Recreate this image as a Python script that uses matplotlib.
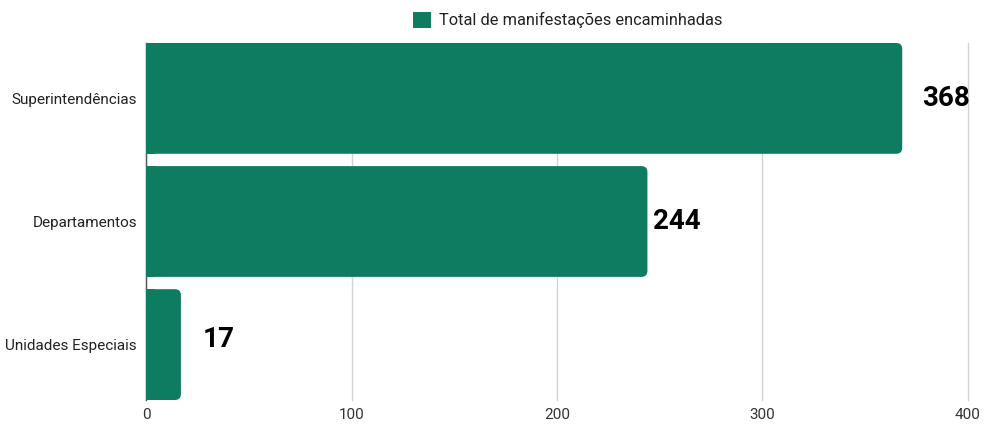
import matplotlib
matplotlib.use("Agg")
import matplotlib.pyplot as plt
from matplotlib.patches import FancyBboxPatch, Rectangle, Patch

categories = ["Superintendências", "Departamentos", "Unidades Especiais"]
values = [368, 244, 17]
series_name = "Total de manifestações encaminhadas"
xticks = [0, 100, 200, 300, 400]
label_offsets = [(20, 0), (6, 0), (22, 5)]  # pixels, label placement

color = "#0e7c61"
plt.rcParams['font.family'] = ['Roboto', 'DejaVu Sans']

fig = plt.figure(figsize=(9.84, 4.24), dpi=100)
ax = fig.add_axes([146/984, 1-400/424, (968-146)/984, (400-43)/424])

bar_h = 0.9
ypos = list(range(len(categories)))
bars = ax.barh(ypos, values, height=bar_h, color=color, label=series_name, zorder=3)
ax.set_ylim(len(categories)-1+bar_h/2, -bar_h/2)
ax.set_xlim(0, 400)

# rounded right corners
px_x = (968-146)/400.0
px_y = (400-43)/(len(categories)-1+bar_h)
r_px = 6
rx = r_px/px_x
ry = r_px/px_y
for b in bars:
    x0, y0, w, h = b.get_x(), b.get_y(), b.get_width(), b.get_height()
    b.set_visible(False)
    p = FancyBboxPatch((x0, y0), w, h, boxstyle=f"round,pad=0,rounding_size={rx}",
                       mutation_aspect=ry/rx, fc=color, ec="none", zorder=3)
    ax.add_patch(p)
    ax.add_patch(Rectangle((x0, y0), min(w, rx*1.5), h, fc=color, ec="none", zorder=3))

for i, (v, off) in enumerate(zip(values, label_offsets)):
    ax.annotate(str(v), (v, i), xytext=off, textcoords="offset pixels",
                ha="left", va="center", fontsize=20, fontweight="bold", color="black",
                zorder=5)

ax.set_yticks(ypos)
ax.set_yticklabels(categories, fontsize=11, color="#222222")
ax.set_xticks(xticks)
ax.set_xticklabels([str(t) for t in xticks], fontsize=11, color="#333333")
ax.tick_params(axis="y", length=0, pad=6.5)
ax.tick_params(axis="x", length=0, pad=6)
ax.grid(axis="x", color="#d3d3d3", linewidth=1, zorder=0)
for gl in ax.get_xgridlines():
    gl.set_clip_on(False)
for s in ["top", "right", "bottom"]:
    ax.spines[s].set_visible(False)
ax.spines["left"].set_color("#555555")
ax.spines["left"].set_linewidth(1)
ax.spines["left"].set_zorder(2)

fig.legend(handles=[Patch(fc=color, ec="none", label=series_name)], loc="center",
           bbox_to_anchor=(568/984, 1-20/424), frameon=False, fontsize=11.8,
           handlelength=1.1, handleheight=1.1, handletextpad=0.5, labelcolor="#222222")

fig.savefig("out.png", dpi=100)
